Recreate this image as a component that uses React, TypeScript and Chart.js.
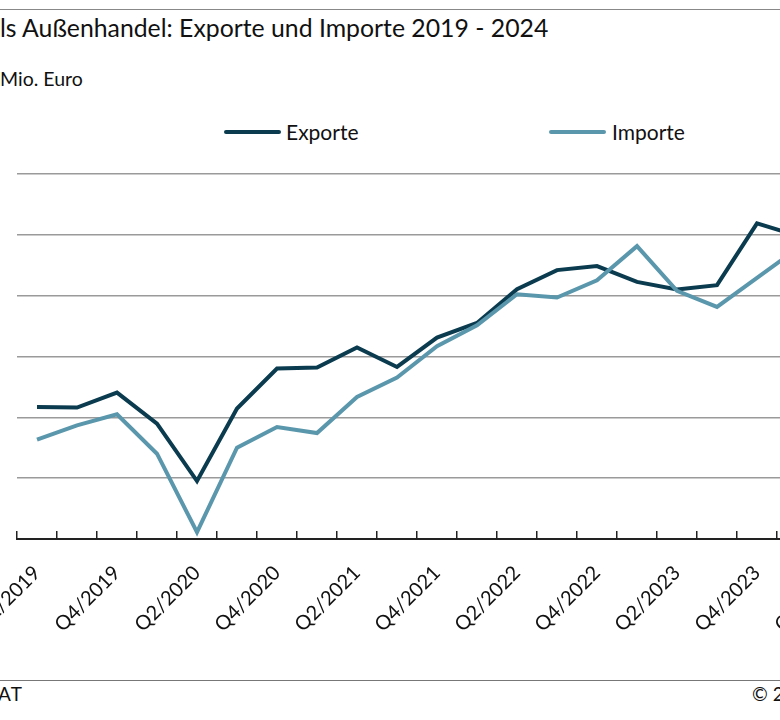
import React, { useEffect, useLayoutEffect, useRef, useState } from "react";
import { Chart, registerables } from "chart.js";

Chart.register(...registerables);

const quarters = [
  "Q2/2019", "Q3/2019", "Q4/2019",
  "Q1/2020", "Q2/2020", "Q3/2020", "Q4/2020",
  "Q1/2021", "Q2/2021", "Q3/2021", "Q4/2021",
  "Q1/2022", "Q2/2022", "Q3/2022", "Q4/2022",
  "Q1/2023", "Q2/2023", "Q3/2023", "Q4/2023",
  "Q1/2024", "Q2/2024", "Q3/2024", "Q4/2024",
];

const exporte = [
  3085, 3080, 3203,
  2948, 2476, 3072, 3401,
  3409, 3574, 3414, 3656,
  3776, 4053, 4210, 4243,
  4113, 4051, 4086, 4594,
  4494, 4350, 4400, 4550,
];

const importe = [
  2816, 2934, 3025,
  2701, 2056, 2751, 2920,
  2871, 3167, 3327, 3584,
  3757, 4012, 3985, 4127,
  4407, 4039, 3908, 4146,
  4385, 4300, 4250, 4400,
];

const seriesNames = ["Exporte", "Importe"];
const seriesColors = ["#0a3b4f", "#5a97ac"];

const yMin = 2000;
const yMax = 5000;
const yStep = 500;

const FONT = "Lato, 'Open Sans', sans-serif";

export default function App() {
  const canvasRef = useRef<HTMLCanvasElement>(null);
  const preTitle = useRef<HTMLSpanElement>(null);
  const preSub = useRef<HTMLSpanElement>(null);
  const preSrc = useRef<HTMLSpanElement>(null);
  const [shift, setShift] = useState([0, 0, 0]);

  useLayoutEffect(() => {
    setShift([
      preTitle.current ? preTitle.current.getBoundingClientRect().width : 0,
      preSub.current ? preSub.current.getBoundingClientRect().width : 0,
      preSrc.current ? preSrc.current.getBoundingClientRect().width : 0,
    ]);
  }, []);

  useEffect(() => {
    if (!canvasRef.current) return;
    const chart = new Chart(canvasRef.current, {
      type: "line",
      data: {
        labels: quarters,
        datasets: [
          {
            label: seriesNames[0],
            data: exporte,
            borderColor: seriesColors[0],
            backgroundColor: seriesColors[0],
            borderWidth: 4,
            pointRadius: 0,
            tension: 0,
            fill: false,
            order: 1,
          },
          {
            label: seriesNames[1],
            data: importe,
            borderColor: seriesColors[1],
            backgroundColor: seriesColors[1],
            borderWidth: 4,
            pointRadius: 0,
            tension: 0,
            fill: false,
            order: 0,
          },
        ],
      },
      options: {
        responsive: false,
        animation: false,
        events: [],
        layout: { padding: { top: 24, right: 20, left: 0, bottom: 0 } },
        plugins: {
          legend: { display: false },
          tooltip: { enabled: false },
          title: { display: false },
        },
        scales: {
          x: {
            offset: true,
            grid: {
              display: true,
              offset: true,
              drawOnChartArea: false,
              drawTicks: true,
              tickLength: -8,
              color: "#222",
              lineWidth: 1.5,
            },
            border: { display: true, color: "#222", width: 2 },
            ticks: {
              autoSkip: false,
              maxRotation: 45,
              minRotation: 45,
              padding: 30,
              color: "#111",
              font: { family: FONT, size: 20 },
              callback: (_v: any, i: number) => (i % 2 === 0 ? quarters[i] : ""),
            },
            afterFit: (s: any) => {
              s.height = 101;
              s.paddingLeft = 0;
              s.paddingRight = 0;
            },
          },
          y: {
            min: yMin,
            max: yMax,
            ticks: {
              stepSize: yStep,
              padding: 28,
              color: "#111",
              font: { family: FONT, size: 19 },
              callback: (v: any) => Number(v).toLocaleString("de-AT"),
            },
            grid: { color: "#9a9a9a", lineWidth: 1.5, drawTicks: false },
            border: { display: false },
            afterFit: (s: any) => {
              s.width = 80;
              s.paddingTop = 0;
              s.paddingBottom = 0;
            },
          },
        },
      },
    });
    return () => chart.destroy();
  }, []);

  const textBase: React.CSSProperties = {
    position: "absolute",
    whiteSpace: "nowrap",
    fontFamily: FONT,
    color: "#111",
    lineHeight: 1,
  };

  return (
    <div
      style={{
        position: "absolute",
        left: 0,
        top: 0,
        width: 780,
        height: 720,
        overflow: "hidden",
        background: "#fff",
      }}
    >
      <div style={{ position: "absolute", left: 0, top: 9, width: 780, borderTop: "1px solid #888" }} />
      <div style={{ ...textBase, left: -shift[0], top: 16, fontSize: 24.8 }}>
        <span ref={preTitle}>Tiro</span>ls Außenhandel: Exporte und Importe 2019 - 2024
      </div>
      <div style={{ ...textBase, left: -shift[1], top: 69, fontSize: 19.5 }}>
        <span ref={preSub}>in </span>Mio. Euro
      </div>

      {seriesNames.map((name, i) => (
        <React.Fragment key={name}>
          <div
            style={{
              position: "absolute",
              left: i === 0 ? 224 : 549,
              top: 130,
              width: 57,
              height: 4,
              borderRadius: 2,
              background: seriesColors[i],
            }}
          />
          <div style={{ ...textBase, left: i === 0 ? 286 : 612, top: 121, fontSize: 21 }}>{name}</div>
        </React.Fragment>
      ))}

      <div style={{ position: "absolute", left: -63, top: 150, width: 1020, height: 490 }}>
        <canvas ref={canvasRef} width={1020} height={490} style={{ display: "block" }} />
      </div>

      <div style={{ position: "absolute", left: 0, top: 680, width: 780, borderTop: "1px solid #777" }} />
      <div style={{ ...textBase, left: -shift[2] - 2, top: 684, fontSize: 19, fontKerning: "none" }}>
        <span ref={preSrc}>Quelle: ST</span>AT
      </div>
      <div style={{ ...textBase, left: 752, top: 684, fontSize: 19 }}>© 2025 Land Tirol</div>
    </div>
  );
}
